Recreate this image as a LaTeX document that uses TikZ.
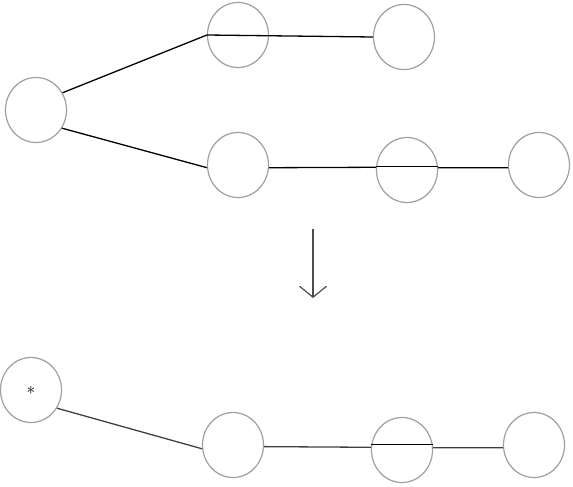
\documentclass[tikz,border=0pt]{standalone}
\usetikzlibrary{shapes.geometric,arrows.meta}
\begin{document}
\begin{tikzpicture}[x=1pt,y=-1pt,
  main node/.style={ellipse,draw=gray!75,line width=1.2pt,minimum width=61pt,minimum height=65pt,inner sep=0pt,font=\LARGE}]
  \useasboundingbox (0,0) rectangle (573,487);

  \node[main node] (1) at (36,110) {};
  \node[main node] (2) at (238,35) {};
  \node[main node] (3) at (404,37) {};
  \node[main node] (4) at (238,165) {};
  \node[main node] (5) at (407,170) {};
  \node[main node] (6) at (539,165) {};

  \node[main node] (7) at (31,390) {\raisebox{-3pt}{$*$}};
  \node[main node] (8) at (233,445) {};
  \node[main node] (9) at (402,450) {};
  \node[main node] (10) at (534,445) {};

  \coordinate (a1) at (313,229);
  \coordinate (a2) at (313,298);

  \path[line width=1.3pt]
   (1.33) edge (2.west)
   (2.west) edge (3.west)
   (1.-35) edge (4.185)
   (4.-5) edge (5.175)
   (5.173) edge (5.7)
   (5.4) edge (6.185);

  \path[line width=1.3pt,draw=black!75]
   (7.-35) edge (8.187)
   (8.-3) edge (9.175)
   (9.4) edge (10.185);
  \draw[line width=1.3pt] (9.170) -- (9.10);

  \draw[line width=1.2pt,black!70,-{Straight Barb[length=11pt,width=27pt]}] (a1) -- (a2);
\end{tikzpicture}
\end{document}
